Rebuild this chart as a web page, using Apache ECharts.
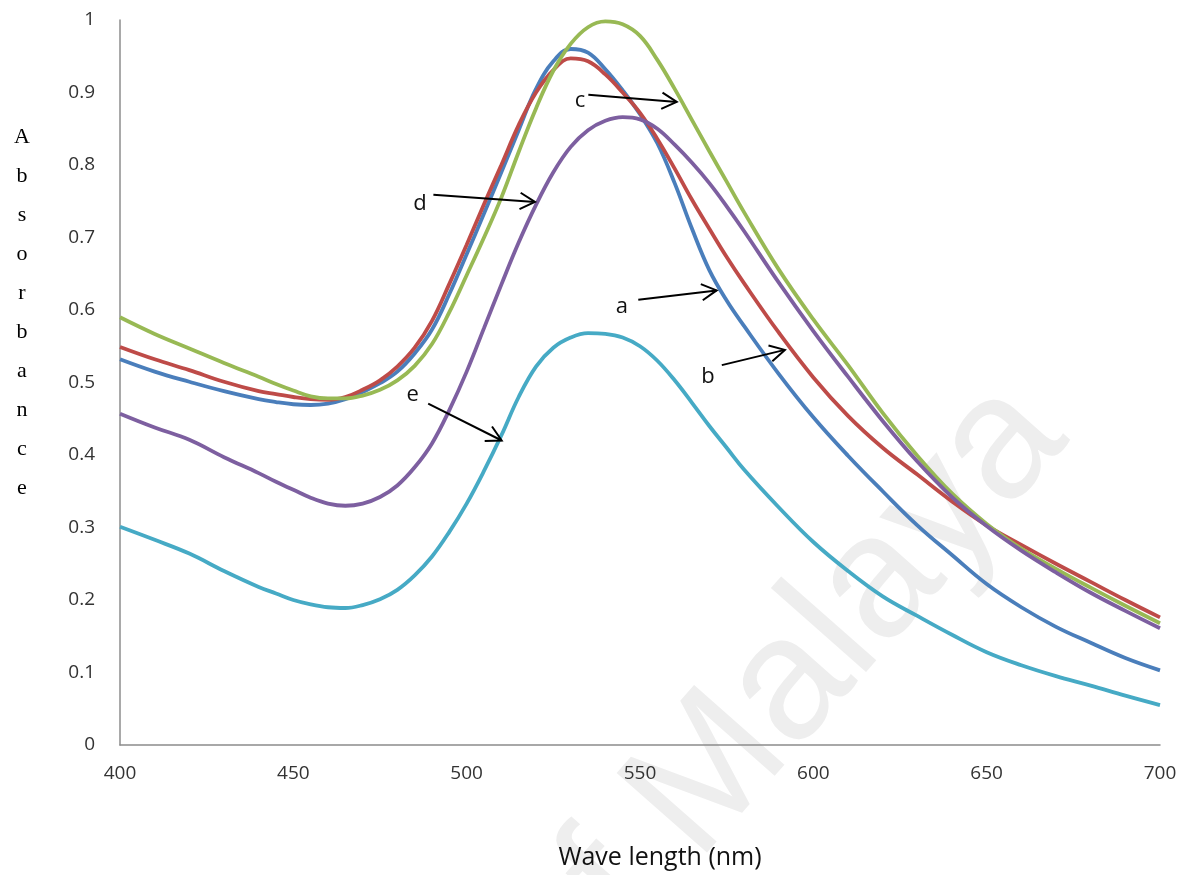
<!DOCTYPE html>
<html>
<head>
<meta charset="utf-8">
<script src="https://cdn.jsdelivr.net/npm/echarts/dist/echarts.min.js"></script>
<style>
html,body{margin:0;padding:0;background:#ffffff;}
#chart{width:1195px;height:875px;}
</style>
</head>
<body>
<div id="chart"></div>
<script>
// ---- data ----
const wavelengths = [400,410,420,430,
  440,445,450,455,460,465,470,475,480,485,490,495,500,505,510,515,520,525,530,535,540,545,550,555,560,565,570,575,580,
  590,600,610,620,630,640,650,660,670,680,690,700];

const seriesA = [0.532,0.515,0.501,0.488,
  0.477,0.473,0.470,0.469,0.471,0.477,0.487,0.499,0.515,0.540,0.573,0.622,0.677,0.733,0.790,0.848,0.905,0.943,0.960,0.955,0.932,0.903,0.870,0.830,0.775,0.712,0.655,0.613,0.578,
  0.512,0.452,0.399,0.350,0.303,0.262,0.222,0.190,0.163,0.141,0.120,0.103];

const seriesB = [0.549,0.532,0.517,0.501,
  0.488,0.484,0.480,0.477,0.476,0.480,0.490,0.503,0.522,0.548,0.585,0.636,0.690,0.746,0.800,0.855,0.900,0.931,0.947,0.943,0.925,0.900,0.872,0.836,0.795,0.752,0.712,0.673,0.637,
  0.569,0.507,0.454,0.410,0.373,0.336,0.303,0.276,0.250,0.225,0.200,0.176];

const seriesC = [0.590,0.567,0.547,0.527,
  0.508,0.498,0.489,0.481,0.478,0.478,0.482,0.490,0.503,0.523,0.553,0.597,0.648,0.700,0.755,0.818,0.878,0.930,0.967,0.990,0.998,0.994,0.978,0.945,0.905,0.862,0.819,0.777,0.735,
  0.656,0.587,0.524,0.458,0.399,0.347,0.305,0.271,0.243,0.217,0.192,0.168];

const seriesD = [0.457,0.438,0.421,0.397,
  0.375,0.363,0.352,0.341,0.333,0.330,0.333,0.342,0.358,0.383,0.416,0.462,0.515,0.575,0.635,0.693,0.745,0.790,0.825,0.848,0.861,0.866,0.863,0.850,0.828,0.803,0.775,0.743,0.709,
  0.638,0.571,0.508,0.447,0.391,0.342,0.302,0.268,0.238,0.210,0.185,0.161];

const seriesE = [0.301,0.283,0.264,0.240,
  0.218,0.209,0.200,0.194,0.190,0.189,0.193,0.201,0.214,0.234,0.260,0.294,0.333,0.378,0.427,0.480,0.522,0.548,0.562,0.568,0.567,0.562,0.550,0.530,0.503,0.472,0.440,0.410,0.380,
  0.328,0.280,0.240,0.205,0.178,0.152,0.128,0.110,0.095,0.082,0.068,0.055];

const seriesNames = ['a','b','c','d','e'];
const seriesColors = ['#4a7ebb','#be4b48','#98b954','#7d5fa0','#46aac5'];
const xAxisTitle = 'Wave length (nm)';
const yAxisTitle = 'Absorbance';
const watermarkText = 'University of Malaya';

// annotation labels and arrows, in data coordinates (wavelength, absorbance)
const annotationLabels = ['a','b','c','d','e'];
const annotationTextAt = [[544.8,0.604],[569.6,0.508],[532.7,0.888],[486.5,0.746],[484.4,0.483]];
const annotationFrom   = [[549.5,0.614],[573.6,0.524],[535.1,0.897],[490.4,0.759],[488.9,0.471]];
const annotationTo     = [[572.1,0.627],[591.8,0.545],[560.6,0.887],[519.7,0.749],[510.1,0.420]];

// ---- chart ----
const chart = echarts.init(document.getElementById('chart'), null, {renderer:'canvas'});
const allSeries = [seriesA, seriesB, seriesC, seriesD, seriesE];
const labelFont = "'Open Sans', 'DejaVu Sans', sans-serif";

const option = {
  backgroundColor: '#ffffff',
  animation: false,
  grid: {left: 120, right: 35, top: 20, bottom: 130, containLabel: false},
  xAxis: {
    type: 'value', min: 400, max: 700, interval: 50,
    axisLine: {show: true, lineStyle: {color: '#8c8c8c', width: 1.5}},
    axisTick: {show: false},
    splitLine: {show: false},
    axisLabel: {color: '#333333', fontSize: 19, fontFamily: labelFont, margin: 19},
    name: xAxisTitle, nameLocation: 'middle', nameGap: 100,
    nameTextStyle: {color: '#111111', fontSize: 25, fontFamily: labelFont, padding: [0,0,0,40]}
  },
  yAxis: {
    type: 'value', min: 0, max: 1, interval: 0.1,
    axisLine: {show: true, lineStyle: {color: '#8c8c8c', width: 1.5}},
    axisTick: {show: false},
    splitLine: {show: false},
    axisLabel: {color: '#333333', fontSize: 19, fontFamily: labelFont, margin: 25,
      formatter: v => String(Math.round(v*10)/10)}
  },
  series: allSeries.map((vals, i) => ({
    name: seriesNames[i],
    type: 'line',
    data: wavelengths.map((w, k) => [w, vals[k]]),
    showSymbol: false,
    smooth: 0.4,
    z: 3,
    lineStyle: {color: seriesColors[i], width: 3.8},
    itemStyle: {color: seriesColors[i]}
  }))
};
chart.setOption(option);

// build graphic annotations through the chart's own coordinate conversion
function px(pt){ return chart.convertToPixel({xAxisIndex:0, yAxisIndex:0}, pt); }
const graphics = [];

// faint watermark
graphics.push({
  type: 'text', x: 1100, y: 466, rotation: Math.PI * 0.27, z: 0, silent: true,
  style: {text: watermarkText, fill: '#eeeeee', font: "175px 'Liberation Sans', Arial, sans-serif",
    textAlign: 'right', textVerticalAlign: 'bottom'}
});

// vertical stacked y axis title
graphics.push({
  type: 'text', x: 22, y: 118, z: 10,
  style: {text: yAxisTitle.split('').join('\n'), fill: '#000000',
    font: "22px 'Liberation Serif', 'DejaVu Serif', serif",
    textAlign: 'center', textVerticalAlign: 'top', lineHeight: 39}
});

for (let i = 0; i < annotationLabels.length; i++) {
  const t = px(annotationTextAt[i]);
  const a = px(annotationFrom[i]);
  const b = px(annotationTo[i]);
  graphics.push({type:'line', z: 20, shape:{x1:a[0], y1:a[1], x2:b[0], y2:b[1]},
    style:{stroke:'#000000', lineWidth:2}});
  const ang = Math.atan2(b[1]-a[1], b[0]-a[0]);
  const L = 17, spread = 0.5;
  const p1 = [b[0] - L*Math.cos(ang - spread), b[1] - L*Math.sin(ang - spread)];
  const p2 = [b[0] - L*Math.cos(ang + spread), b[1] - L*Math.sin(ang + spread)];
  graphics.push({type:'polyline', z: 20, shape:{points:[p1, b, p2]},
    style:{stroke:'#000000', lineWidth:2, fill:null}});
  graphics.push({type:'text', x:t[0], y:t[1], z: 20,
    style:{text: annotationLabels[i], fill:'#111111', font: "22px " + labelFont,
      textAlign:'center', textVerticalAlign:'middle'}});
}
chart.setOption({graphic: {elements: graphics}});
</script>
</body>
</html>
